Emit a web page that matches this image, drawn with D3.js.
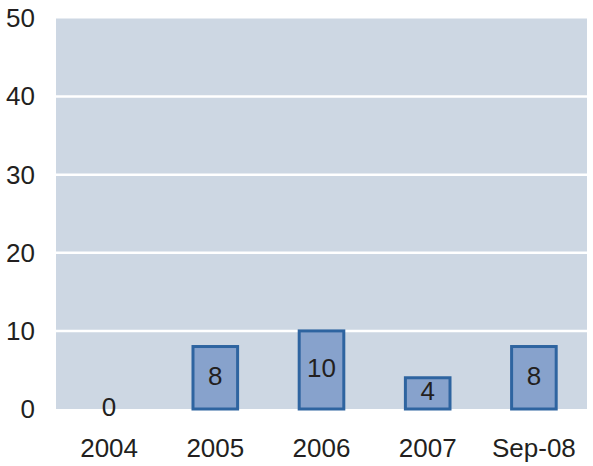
<!DOCTYPE html>
<html><head><meta charset="utf-8">
<script src="https://cdn.jsdelivr.net/npm/d3@7"></script>
<style>body{margin:0;background:#fff}text{font-family:"Liberation Sans",Arial,sans-serif;fill:#231f20}</style>
</head><body>
<svg id="c" width="593" height="466"></svg>
<script>
const categories = ["2004","2005","2006","2007","Sep-08"];
const values = [0, 8, 10, 4, 8];
const yTicks = [0,10,20,30,40,50];

const svg = d3.select("#c");
const m = {left:56, right:6, top:18.5, bottom:57};
const W = 593, H = 466;
const FS = 26;
const x = d3.scaleBand().domain(categories).range([m.left, W - m.right]).paddingInner(0.58).paddingOuter(0.29);
const y = d3.scaleLinear().domain([0,50]).range([H - m.bottom, m.top]);

svg.append("rect").attr("x", m.left).attr("y", y(50)).attr("width", W - m.right - m.left).attr("height", y(0) - y(50)).attr("fill", "#cdd7e3");

svg.append("g").selectAll("line").data(yTicks.filter(d => d > 0 && d < 50)).join("line")
  .attr("x1", m.left).attr("x2", W - m.right).attr("y1", d => y(d)).attr("y2", d => y(d))
  .attr("stroke", "#fff").attr("stroke-width", 2.5);

const yAxis = d3.axisLeft(y).tickValues(yTicks).tickSize(0).tickPadding(0);
const ga = svg.append("g").attr("transform", `translate(35,0)`).call(yAxis);
ga.select(".domain").remove();
ga.attr("font-size", FS).attr("font-family", "Liberation Sans, Arial, sans-serif");
ga.selectAll("text").attr("fill", "#231f20");

const xAxis = d3.axisBottom(x).tickSize(0).tickPadding(0);
const gx = svg.append("g").attr("transform", `translate(0,${y(0)+30})`).call(xAxis);
gx.select(".domain").remove();
gx.attr("font-size", FS).attr("font-family", "Liberation Sans, Arial, sans-serif");
gx.selectAll("text").attr("fill", "#231f20");

svg.append("g").selectAll("rect").data(values.map((v,i)=>({c:categories[i], v}))).join("rect")
  .filter(d => d.v > 0)
  .attr("x", d => x(d.c)).attr("width", x.bandwidth())
  .attr("y", d => y(d.v)).attr("height", d => y(0) - y(d.v))
  .attr("fill", "#87a2cc").attr("stroke", "#2e64a0").attr("stroke-width", 3);

svg.append("g").selectAll("text").data(values.map((v,i)=>({c:categories[i], v}))).join("text")
  .attr("x", d => x(d.c) + x.bandwidth()/2)
  .attr("y", d => (y(d.v) + y(0))/2 - 2)
  .attr("text-anchor", "middle").attr("dominant-baseline", "central")
  .attr("font-size", FS)
  .text(d => d.v);
</script>
</body></html>
